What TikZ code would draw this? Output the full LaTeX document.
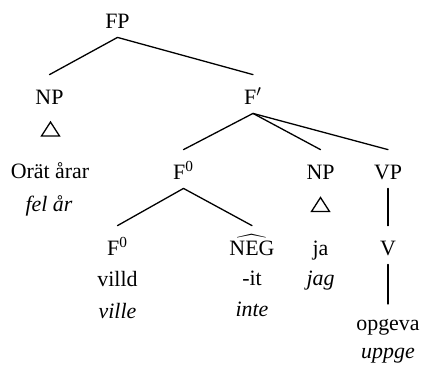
\documentclass[tikz,border=0pt]{standalone}
\usepackage{fontspec}
\setmainfont{Liberation Serif}
\usepackage{tikz}
\usetikzlibrary{positioning}
\newcommand\treefont{\fontsize{11}{13}\selectfont}
\tikzset{
  cat/.style={anchor=base, inner sep=0pt, text height=7.3bp, text depth=0pt},
  word/.style={anchor=base, inner sep=0pt},
  gloss/.style={anchor=base, inner sep=0pt, font=\treefont\itshape},
  branch/.style={line width=0.65bp, line cap=round},
  tri/.style={line width=0.65bp, line join=miter},
}

\begin{document}
\begin{tikzpicture}[x=0.5bp, y=-0.5bp, font=\treefont]
  \useasboundingbox (0,0) rectangle (422,366);
  % --- categories ---
  \node[cat] (fp) at (117.5,28) {FP};
  \node[cat] (npA) at (49.5,104) {NP};
  \node[cat] (fbar) at (253,104) {F$'$};
  \node[cat] (fzero) at (183.5,179) {F\textsuperscript{0}};
  \node[cat] (npB) at (320.5,179) {NP};
  \node[cat] (vp) at (388,179) {VP};
  \node[cat] (fzeroB) at (117.5,255) {F\textsuperscript{0}};
  \node[cat] (neg) at (252,255) {$\widehat{\mbox{NEG}}$};
  \node[cat] (v) at (388,255) {V};
  % --- words and glosses ---
  \node[word] (orat) at (50,178) {Orät årar};
  \node[gloss] (felar) at (49,211) {fel år};
  \node[word] (villd) at (117.5,286) {villd};
  \node[gloss] (ville) at (117.5,318) {ville};
  \node[word] (negit) at (252,285) {-it};
  \node[gloss] (inte) at (252,316) {inte};
  \node[word] (ja) at (320.5,255) {ja};
  \node[gloss] (jag) at (320.5,285) {jag};
  \node[word] (opgeva) at (388,330) {opgeva};
  \node[gloss] (uppge) at (388,358) {uppge};
  % --- triangles under the NPs ---
  \coordinate (triA) at (50.5,129);
  \coordinate (triB) at (320.5,204.5);
  \foreach \t in {triA,triB}
    \draw[tri] (\t) +(0,-7) -- +(9,7) -- +(-9,7) -- cycle;
  % --- branches ---
  \foreach \a/\b in {fp/npA, fp/fbar, fbar/fzero, fbar/npB, fbar/vp,
                     fzero/fzeroB, fzero/neg, vp/v, v/opgeva}
    \draw[branch] ([yshift=-4.5bp]\a.south) -- ([yshift=7.2bp]\b.north);
\end{tikzpicture}
\end{document}
